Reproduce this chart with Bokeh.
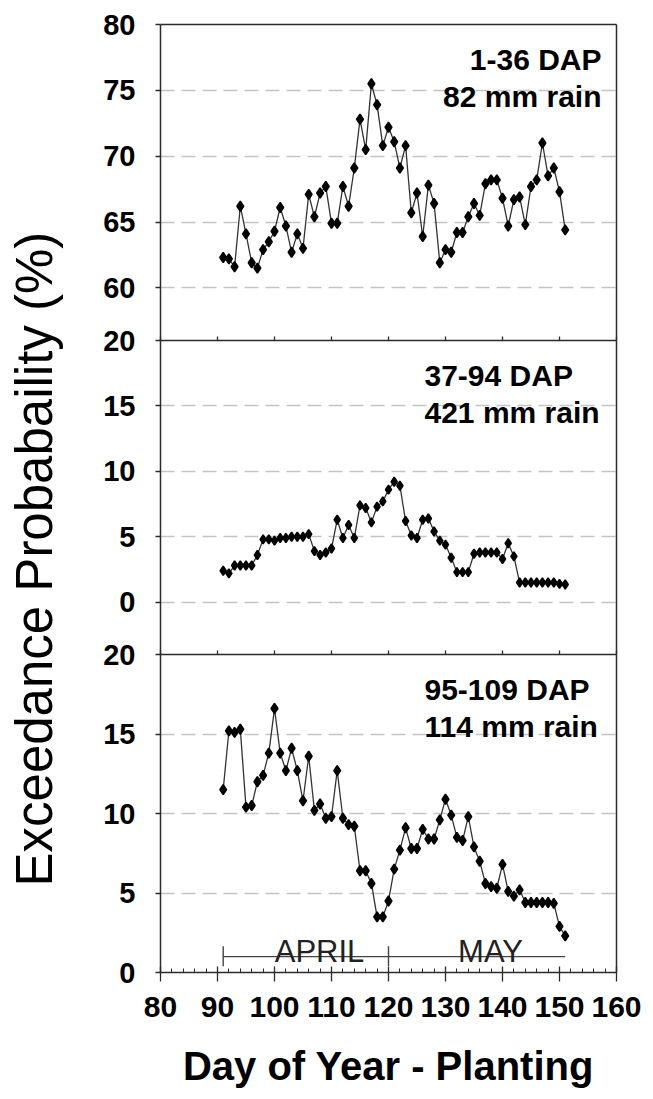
from bokeh.plotting import figure
from bokeh.models import Range1d, LinearAxis, FixedTicker, Grid, Label, ColumnDataSource
from bokeh.core.properties import value
from bokeh.embed import file_html
from bokeh.resources import INLINE

# ---------------- data ----------------
days = list(range(91, 152))
ep_1_36 = [62.3, 62.2, 61.6, 66.2, 64.1, 61.9, 61.5, 62.9, 63.5, 64.3,
           66.1, 64.7, 62.7, 64.1, 63.0, 67.1, 65.4, 67.2, 67.7, 64.9,
           64.9, 67.7, 66.2, 69.1, 72.8, 70.5, 75.5, 73.9, 70.8, 72.2,
           71.1, 69.1, 70.8, 65.7, 67.2, 63.9, 67.8, 66.4, 61.9, 62.9,
           62.7, 64.2, 64.2, 65.4, 66.4, 65.5, 67.9, 68.2, 68.2, 66.8,
           64.7, 66.7, 66.9, 64.8, 67.7, 68.2, 71.0, 68.5, 69.1, 67.3, 64.4]
ep_37_94 = [2.4, 2.2, 2.8, 2.8, 2.8, 2.8, 3.6, 4.8, 4.8, 4.7,
            4.9, 4.9, 5.0, 5.0, 5.0, 5.2, 3.9, 3.6, 3.8, 4.1,
            6.3, 4.9, 5.9, 4.9, 7.4, 7.2, 6.1, 7.3, 7.7, 8.6,
            9.2, 8.9, 6.2, 5.1, 4.9, 6.3, 6.4, 5.4, 4.7, 4.4,
            3.4, 2.3, 2.3, 2.3, 3.7, 3.8, 3.8, 3.8, 3.8, 3.3,
            4.5, 3.5, 1.5, 1.5, 1.5, 1.5, 1.5, 1.5, 1.5, 1.4, 1.35]
ep_95_109 = [11.5, 15.2, 15.1, 15.3, 10.4, 10.5, 12.0, 12.4, 13.8, 16.6,
             13.8, 12.7, 14.1, 12.7, 10.8, 13.6, 10.2, 10.6, 9.7, 9.8,
             12.7, 9.7, 9.3, 9.2, 6.4, 6.4, 5.6, 3.5, 3.5, 4.5,
             6.5, 7.7, 9.1, 7.8, 7.8, 9.0, 8.4, 8.4, 9.6, 10.9,
             9.9, 8.5, 8.3, 9.8, 7.9, 7.0, 5.6, 5.4, 5.3, 6.8,
             5.1, 4.8, 5.2, 4.4, 4.4, 4.4, 4.4, 4.4, 4.35, 2.9, 2.3]
series = [ep_1_36, ep_37_94, ep_95_109]
stage_labels = ["1-36 DAP", "37-94 DAP", "95-109 DAP"]
rain_labels = ["82 mm rain", "421 mm rain", "114 mm rain"]
y_limits = [(56, 80), (-4, 20), (0, 20)]
y_ticks = [[60, 65, 70, 75, 80], [0, 5, 10, 15, 20], [0, 5, 10, 15, 20]]
x_ticks = list(range(80, 161, 10))
x_minor = list(range(80, 161, 2))
months = ["APRIL", "MAY"]
month_edges = [91, 120, 151]
x_title = "Day of Year - Planting"
y_title = "Exceedance Probabaility  (%)"

# ---------------- layout constants ----------------
W, H = 653, 1099
XLO, XHI = 80, 160
PLOT_LEFT_PX, PLOT_RIGHT_PX = 160, 616     # where x=80 and x=160 fall
FRAME_LEFT = 92                             # frame widened so tick labels sit inside it
FRAME_RIGHT = W
FRAME_TOP = 4
FRAME_BOTTOM = H
PANEL_TOP = 24
panel_px = [316, 314, 318]
PLOT_BOTTOM_PX = PANEL_TOP + sum(panel_px)  # 972
TITLE_SHIFT_PX = 12                         # y title sits a little above the box centre
FONT = "Liberation Sans"
INK = "#2b2b2b"

px_per_day = (PLOT_RIGHT_PX - PLOT_LEFT_PX) / (XHI - XLO)
x_start = XLO - (PLOT_LEFT_PX - FRAME_LEFT) / px_per_day
x_end = XHI + (FRAME_RIGHT - PLOT_RIGHT_PX) / px_per_day

full_ranges = []
panel_tops = []
top = PANEL_TOP
for (lo, hi), h in zip(y_limits, panel_px):
    ppu = h / (hi - lo)
    full_ranges.append((lo - (FRAME_BOTTOM - (top + h)) / ppu,
                        hi + (top - FRAME_TOP) / ppu, ppu))
    panel_tops.append(top)
    top += h
range_names = ["p1", "p2", "default"]

p = figure(width=W, height=H, x_range=Range1d(x_start, x_end),
           y_range=Range1d(full_ranges[2][0], full_ranges[2][1]),
           output_backend="svg", toolbar_location=None, title=None,
           min_border_left=FRAME_LEFT, min_border_right=W - FRAME_RIGHT,
           min_border_top=FRAME_TOP, min_border_bottom=H - FRAME_BOTTOM)
p.extra_y_ranges = {"p1": Range1d(full_ranges[0][0], full_ranges[0][1]),
                    "p2": Range1d(full_ranges[1][0], full_ranges[1][1])}
p.xgrid.visible = False
p.ygrid.visible = False
p.background_fill_color = "white"
p.border_fill_color = "white"
p.outline_line_color = None

# y title carried by the default left axis (no ticks), centred on the stacked panels
ppu3 = full_ranges[2][2]
ya = p.yaxis[0]
ya.ticker = FixedTicker(ticks=[])
ya.bounds = (y_limits[2][0] + 2 * TITLE_SHIFT_PX / ppu3,
             y_limits[2][1] + (panel_tops[2] - PANEL_TOP) / ppu3)
ya.axis_line_color = None
ya.major_tick_out = 0
ya.major_tick_in = 0
ya.minor_tick_out = 0
ya.minor_tick_in = 0
ya.axis_label = y_title
ya.axis_label_text_font = FONT
ya.axis_label_text_font_style = "normal"
ya.axis_label_text_font_size = "51px"
ya.axis_label_text_color = "black"
ya.axis_label_standoff = 30

# bottom x axis, pinned at 0 of the bottom panel
xa = p.xaxis[0]
xa.fixed_location = y_limits[2][0]
xa.bounds = (XLO, XHI)
xa.ticker = FixedTicker(ticks=x_ticks, minor_ticks=x_minor)
xa.axis_line_color = INK
xa.axis_line_width = 1.5
xa.major_tick_line_color = INK
xa.major_tick_line_width = 1.3
xa.minor_tick_line_color = INK
xa.major_tick_in = 6
xa.major_tick_out = 9
xa.minor_tick_in = 4
xa.minor_tick_out = 0
xa.major_label_text_font = FONT
xa.major_label_text_font_style = "bold"
xa.major_label_text_font_size = "30px"
xa.major_label_text_color = "black"
xa.major_label_standoff = 15
xa.axis_label = x_title
xa.axis_label_text_font = FONT
xa.axis_label_text_font_style = "bold"
xa.axis_label_text_font_size = "40px"
xa.axis_label_text_color = "black"
xa.axis_label_standoff = 24


def plain_axis(ax, tick_in=0, tick_out=0):
    ax.axis_line_color = INK
    ax.axis_line_width = 1.5
    ax.major_tick_line_color = INK
    ax.major_tick_line_width = 1.3
    ax.major_tick_in = tick_in
    ax.major_tick_out = tick_out
    ax.minor_tick_in = 0
    ax.minor_tick_out = 0
    return ax


def y_at(i, px_from_panel_top):
    lo, hi = y_limits[i]
    return hi - px_from_panel_top / full_ranges[i][2]


def x_at(px_from_plot_left):
    return XLO + px_from_plot_left / px_per_day


for i, name in enumerate(range_names):
    lo, hi = y_limits[i]
    # panel y axis (left edge) with labels
    ax = plain_axis(LinearAxis(y_range_name=name, fixed_location=XLO, bounds=(lo, hi),
                               ticker=FixedTicker(ticks=y_ticks[i])), tick_out=5)
    ax.major_label_text_font = FONT
    ax.major_label_text_font_style = "bold"
    ax.major_label_text_font_size = "29px"
    ax.major_label_text_color = "black"
    ax.major_label_standoff = 20
    p.add_layout(ax, "left")

    # right edge of the panel box
    rx = plain_axis(LinearAxis(y_range_name=name, fixed_location=XHI, bounds=(lo, hi),
                               ticker=FixedTicker(ticks=[])))
    p.add_layout(rx, "right")

    # top edge of the whole box
    if i == 0:
        tx_ax = plain_axis(LinearAxis(y_range_name=name, fixed_location=hi, bounds=(XLO, XHI),
                                      ticker=FixedTicker(ticks=[])))
        p.add_layout(tx_ax, "above")

    # panel separator x axes (ticks pointing up, no labels)
    if name != "default":
        bx = plain_axis(LinearAxis(y_range_name=name, fixed_location=lo, bounds=(XLO, XHI),
                                   ticker=FixedTicker(ticks=x_ticks)), tick_in=4)
        bx.major_label_overrides = {t: "" for t in x_ticks}
        p.add_layout(bx, "below")

    # dashed grid lines
    g = Grid(dimension=1, y_range_name=name, cross_bounds=(XLO, XHI),
             ticker=FixedTicker(ticks=[t for t in y_ticks[i] if lo < t < hi]),
             grid_line_color="#c4c4c4", grid_line_dash="14 7", grid_line_width=1.4)
    p.add_layout(g)

    # series
    src = ColumnDataSource(dict(day=days, ep=series[i]))
    p.line("day", "ep", source=src, y_range_name=name, line_color="#333333", line_width=1.3)
    p.scatter("day", "ep", source=src, y_range_name=name, marker="diamond",
              size=10 if i != 1 else 9, fill_color="black", line_color="black", line_width=1.6)

    # stage / rain annotation
    if i == 0:
        tx, align = x_at(441), "right"
    else:
        tx, align = x_at(264), "left"
    for txt, off in ((stage_labels[i], 35), (rain_labels[i], 71.5)):
        p.add_layout(Label(x=tx, y=y_at(i, off), y_range_name=name, text=txt,
                           text_font=FONT, text_font_style="bold", text_font_size="30px",
                           text_color="black", text_align=align, text_baseline="alphabetic"))

# month bracket in bottom panel
bracket_y = 1.0
p.segment(x0=[month_edges[0]], x1=[month_edges[-1]], y0=[bracket_y], y1=[bracket_y],
          line_color="#444444", line_width=1.4)
p.segment(x0=month_edges[:-1], x1=month_edges[:-1],
          y0=[bracket_y - 0.6] * (len(month_edges) - 1),
          y1=[bracket_y + 0.65] * (len(month_edges) - 1),
          line_color="#444444", line_width=1.4)
mids = [(a + b) / 2 + 2.4 for a, b in zip(month_edges[:-1], month_edges[1:])]
p.text(x=mids, y=[bracket_y + 0.3] * len(mids), text=months,
       text_font=value(FONT), text_font_size=value("31px"), text_color="#222222",
       text_align="center", text_baseline="alphabetic")

open("out.html", "w").write(file_html(p, INLINE))
